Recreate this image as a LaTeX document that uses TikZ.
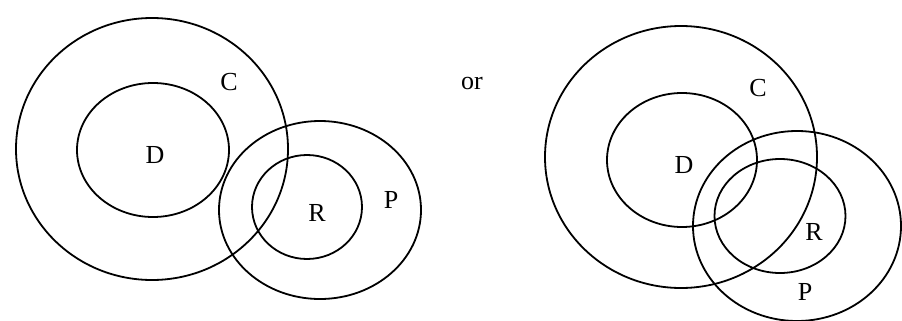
\documentclass[tikz,border=0pt]{standalone}
\usepackage{fontspec}
\setmainfont{Liberation Serif}
\usetikzlibrary{shapes.geometric}

\tikzset{
  set/.style={ellipse,draw=black,line width=1.8pt,inner sep=0pt},
  setname/.style={font=\fontsize{26}{28}\selectfont,inner sep=0pt}
}

\begin{document}
\begin{tikzpicture}[x=1pt,y=-1pt]
			\useasboundingbox (0,0) rectangle (902,321);
			% first case
			\node[set,minimum width=272pt,minimum height=262pt] (C1) at (152,149) {};
			\node[set,minimum width=152pt,minimum height=134pt] (D1) at (153,150) {};
			\node[set,minimum width=202pt,minimum height=178pt] (P1) at (320,210) {};
			\node[set,minimum width=110pt,minimum height=104pt] (R1) at (307,207) {};
			\node[setname] (c1) at (229,82) {C};
			\node[setname] (d1) at (155,155) {D};
			\node[setname] (r1) at (317,213) {R};
			\node[setname] (p1) at (391,200) {P};
			
			\node[setname] (or) at (472,84) {or};
			
			% second case
			\node[set,minimum width=272pt,minimum height=262pt] (C2) at (681,157) {};
			\node[set,minimum width=150pt,minimum height=134pt] (D2) at (682,160) {};
			\node[set,minimum width=208pt,minimum height=190pt] (P2) at (797,226) {};
			\node[set,minimum width=131pt,minimum height=114pt] (R2) at (780,216) {};
			\node[setname] (c2) at (758,88) {C};
			\node[setname] (d2) at (684,165) {D};
			\node[setname] (r2) at (814,232) {R};
			\node[setname] (p2) at (805,292) {P};
		\end{tikzpicture}
\end{document}
